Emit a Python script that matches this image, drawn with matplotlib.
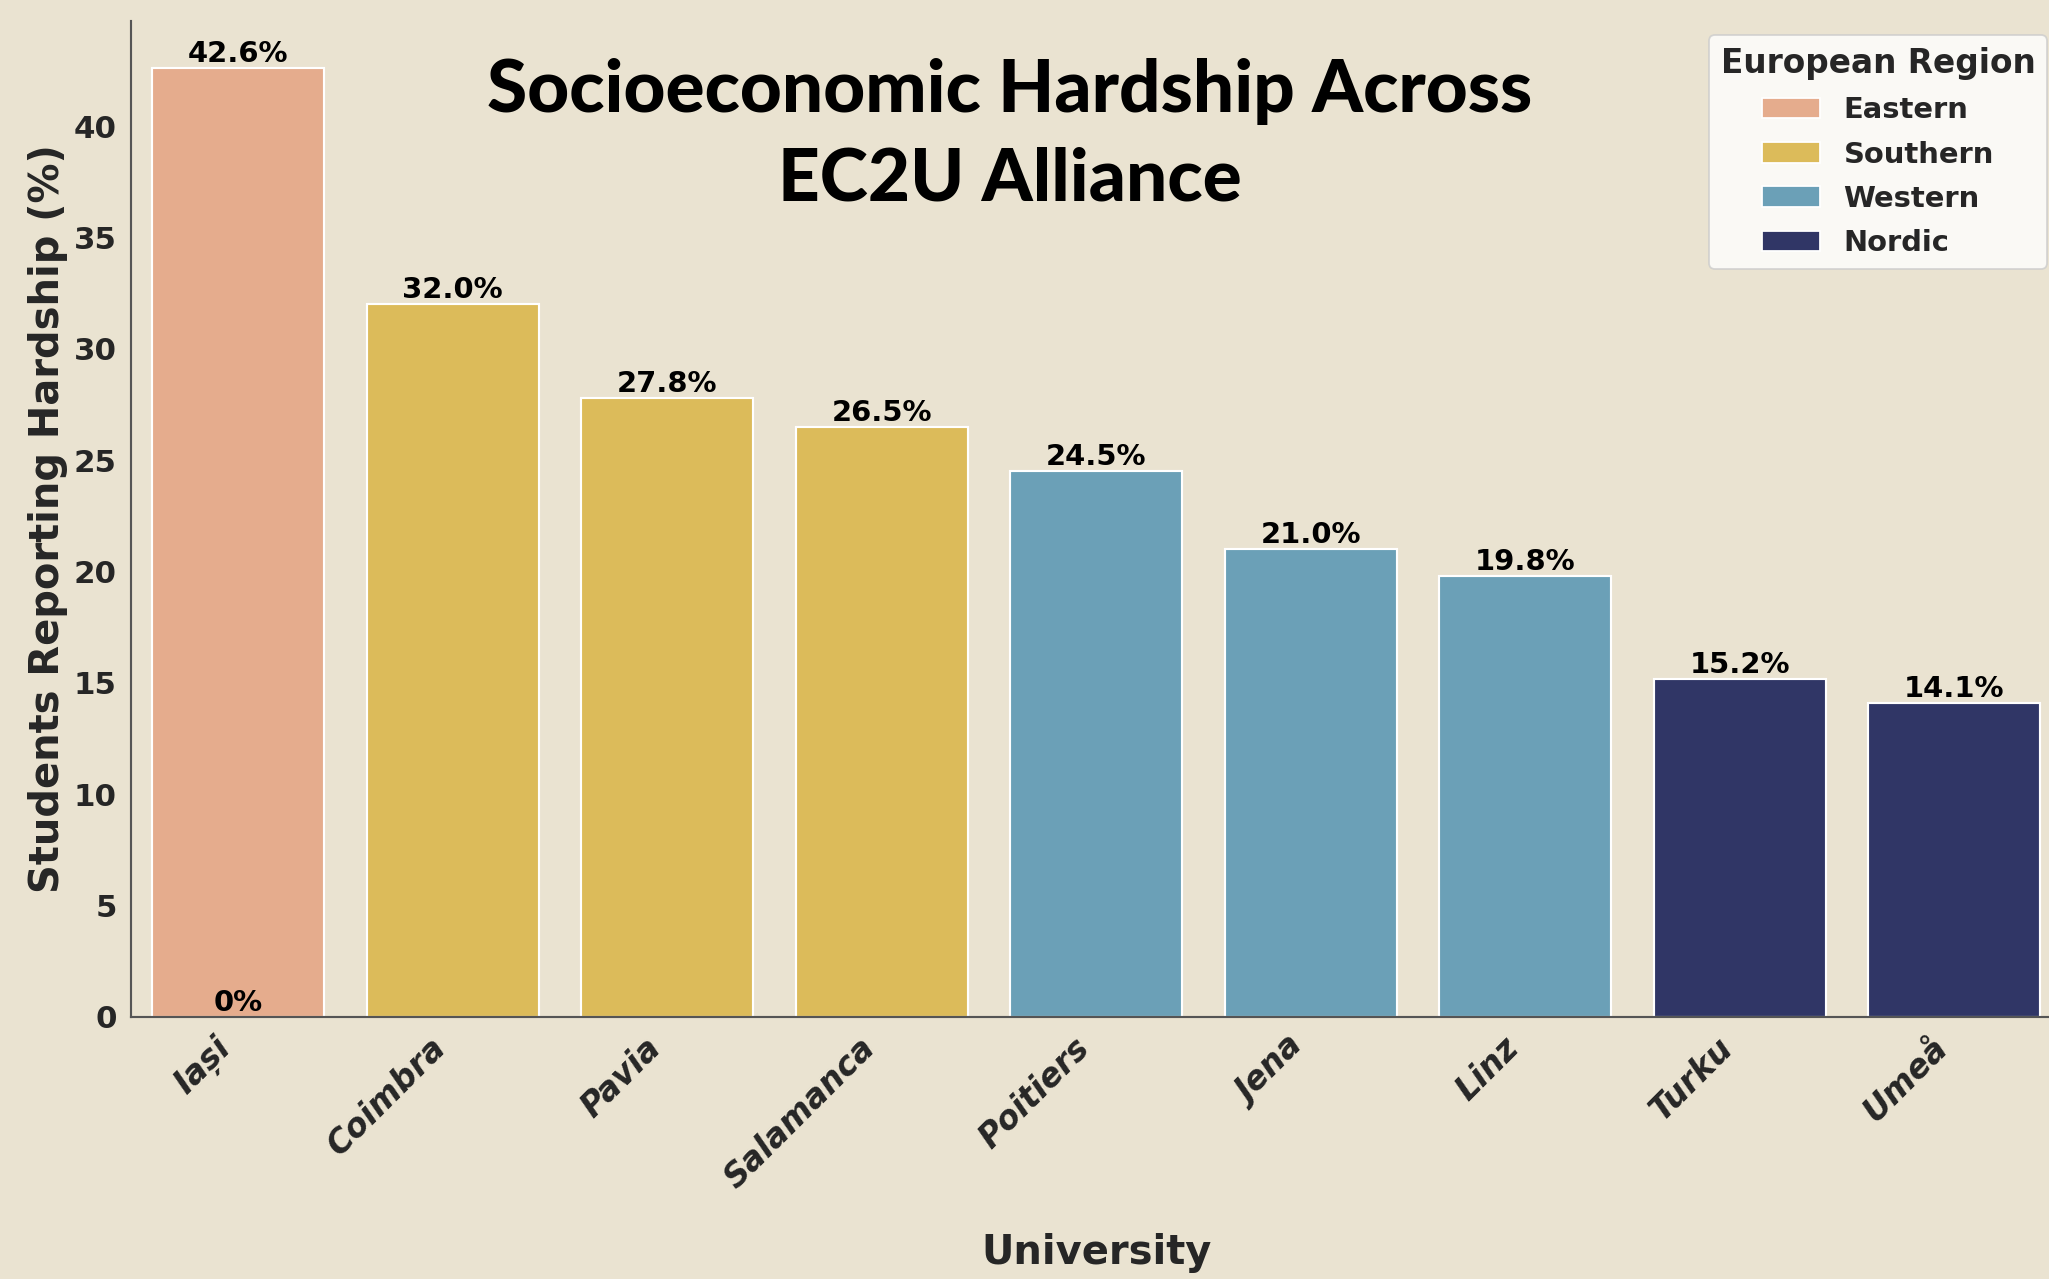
import matplotlib
matplotlib.use("Agg")
import matplotlib.pyplot as plt
from matplotlib.patches import Patch

universities = ["Iași", "Coimbra", "Pavia", "Salamanca", "Poitiers", "Jena", "Linz", "Turku", "Umeå"]
hardship = [42.6, 32.0, 27.8, 26.5, 24.5, 21.0, 19.8, 15.2, 14.1]
regions = ["Eastern", "Southern", "Southern", "Southern", "Western", "Western", "Western", "Nordic", "Nordic"]
region_order = ["Eastern", "Southern", "Western", "Nordic"]
region_colors = {"Eastern": "#E5AC8D", "Southern": "#DCBB5A", "Western": "#6BA0B7", "Nordic": "#303666"}

BG = "#EAE3D1"
W, H, DPI = 2049, 1279, 128
fig = plt.figure(figsize=(W / DPI, H / DPI), dpi=DPI, facecolor=BG)
left, right, bottom, top = 131, 2061.5, 1017, 21
ax = fig.add_axes([left / W, 1 - bottom / H, (right - left) / W, (bottom - top) / H])
ax.set_facecolor(BG)

x = list(range(len(universities)))
bars = ax.bar(x, hardship, width=0.8, color=[region_colors[r] for r in regions],
              edgecolor="white", linewidth=1.2, zorder=2)
ax.bar_label(bars, labels=[f"{v:.1f}%" for v in hardship], padding=0,
             fontsize=16.3, fontweight="bold", color="black")
ax.annotate("0%", xy=(0, 0), xytext=(0, 0), textcoords="offset points",
            ha="center", va="bottom", fontsize=16.3, fontweight="bold", color="black")

ax.set_xlim(-0.5, 8.5)
ax.set_ylim(0, 44.73)
ax.set_xticks(x)
ax.set_xticklabels(universities, rotation=45, ha="right",
                   fontsize=18.3, fontweight="bold", fontstyle="italic", color="#262626")
ax.set_yticks([0, 5, 10, 15, 20, 25, 30, 35, 40])
for lab in ax.get_yticklabels():
    lab.set_fontsize(17.4)
    lab.set_fontweight("bold")
    lab.set_color("#262626")
ax.tick_params(axis="both", length=0, pad=8)

for s in ["top", "right"]:
    ax.spines[s].set_visible(False)
for s in ["left", "bottom"]:
    ax.spines[s].set_color("#555555")
    ax.spines[s].set_linewidth(1.2)

ax.set_xlabel("University", fontsize=22.5, fontweight="bold", color="#262626", labelpad=21.5)
ax.set_ylabel("Students Reporting Hardship (%)", fontsize=22.5, fontweight="bold", color="#262626", labelpad=3)

handles = [Patch(facecolor=region_colors[r], edgecolor="white", label=r) for r in region_order]
leg = ax.legend(handles=handles, title="European Region", loc="upper right",
                prop={"size": 16.3, "weight": "bold"}, labelspacing=0.56,
                frameon=True, framealpha=0.8, facecolor="white", edgecolor="0.8")
leg.get_title().set_fontsize(18.4)
leg.get_title().set_fontweight("bold")
for t in leg.get_texts():
    t.set_color("#262626")
leg.get_title().set_color("#262626")

fig.text(1010 / W, 1 - 58 / H, "Socioeconomic Hardship Across\nEC2U Alliance",
         ha="center", va="top", fontsize=41, fontfamily="Lato", fontweight="black",
         color="black", linespacing=1.4)

fig.savefig("out.png", dpi=DPI, facecolor=BG)
